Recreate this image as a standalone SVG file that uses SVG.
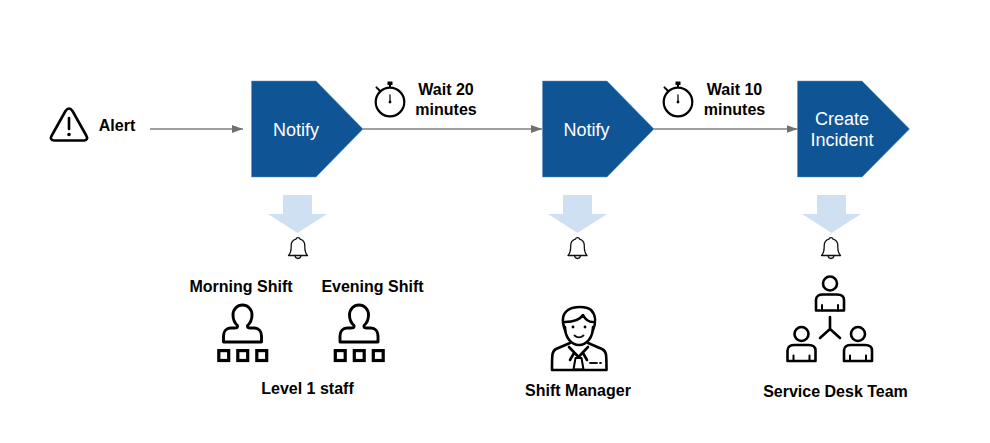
<svg xmlns="http://www.w3.org/2000/svg" width="990" height="443" viewBox="0 0 990 443">
  <style>
    .step { fill: #0f5596; stroke: #5c8fc0; stroke-width: 0.5; }
    .step-text { font: 18px "Liberation Sans", Arial, sans-serif; fill: #fff; text-anchor: middle; }
    .label { font: bold 16px "Liberation Sans", Arial, sans-serif; fill: #000; text-anchor: middle; }
    .down { fill: #cfe0f2; }
    .flow { stroke: #808080; stroke-width: 1.5; fill: none; marker-end: url(#head); }
    .ico { fill: none; stroke: #000; stroke-width: 2.6; stroke-linejoin: round; stroke-linecap: round; }
    .thin { fill: none; stroke: #111; stroke-width: 1.3; stroke-linejoin: round; stroke-linecap: round; }
  </style>
  <defs>
    <marker id="head" markerUnits="userSpaceOnUse" markerWidth="11" markerHeight="10" refX="11" refY="4" orient="auto">
      <path d="M0 0L11 4L0 8Z" fill="#707070"/>
    </marker>
    <path id="drop" class="down" d="M15 0H44V19H59L29.500 38L0 19H15Z"/>
    <g id="bell">
      <path class="thin" d="M-9.500 17.500C-6.500 14.500 -6.800 11 -6.800 7.500C-6.800 3.500 -4 1.800 -2 1.200C-1.800 -0.800 1.800 -0.800 2 1.200C4 1.800 6.800 3.500 6.800 7.500C6.800 11 6.500 14.500 9.500 17.500Z"/>
      <path class="thin" d="M-3 17.500C-2.500 21.500 2.500 21.500 3 17.500"/>
    </g>
    <g id="watch">
      <circle class="ico" style="stroke-width:2.200" cx="0" cy="0" r="14.300"/>
      <path d="M-2.500 -20.500H2.500V-17H1V-14.500H-1V-17H-2.500Z" fill="#000"/>
      <path class="ico" style="stroke-width:2" d="M-13.500 -14.600L-10.200 -11.200"/>
      <path class="thin" d="M0 -7V0"/>
      <circle cx="0" cy="0" r="1.400" fill="#000"/>
    </g>
    <g id="member">
      <circle class="ico" cx="0" cy="-11.500" r="7"/>
      <path class="ico" d="M-14 15.500V5C-14 1 -11 -0.500 -7 -0.500H7C11 -0.500 14 1 14 5V15.500Z"/>
      <path class="ico" style="stroke-width:2" d="M-8 10V15.500M8 10V15.500"/>
    </g>
    <g id="staff">
      <path class="ico" style="stroke-width:2.900" d="M-5 -4.500C-9 -8 -9.500 -12 -9.500 -15C-9.500 -21 -5 -25 0 -25C5 -25 9.500 -21 9.500 -15C9.500 -12 9 -8 5 -4.500V-3.500C5 -2.500 6 -2 8 -2H12C16 -2 19 1 19 6V12H-19V6C-19 1 -16 -2 -12 -2H-8C-6 -2 -5 -2.500 -5 -3.500Z"/>
      <g fill="#fff" stroke="#000" stroke-width="3.200">
        <rect x="-23.700" y="20.600" width="9.900" height="9.900"/>
        <rect x="-4.700" y="20.600" width="9.900" height="9.900"/>
        <rect x="14.300" y="20.600" width="9.900" height="9.900"/>
      </g>
    </g>
  </defs>

  <g id="connectors">
    <path class="flow" d="M150 129H243"/>
    <path class="flow" d="M363 129H542"/>
    <path class="flow" d="M654 129H797.500"/>
  </g>

  <g id="alert">
    <path class="ico" stroke-width="2.800" d="M69 108.500C67.500 108.500 66.500 109.500 65.500 111L51.500 136C50 138.500 51.500 140.500 54 140.500H84C86.500 140.500 88 138.500 86.500 136L72.500 111C71.500 109.500 70.500 108.500 69 108.500Z"/>
    <path class="ico" d="M69 118V129"/>
    <circle cx="69" cy="134.500" r="1.800" fill="#000"/>
    <text class="label" x="117" y="131">Alert</text>
  </g>

  <g id="notify-level1">
    <path class="step" d="M251.500 81H316L363 129L316 177H251.500Z"/>
    <text class="step-text" x="296" y="136">Notify</text>
    <use href="#drop" x="268" y="195"/>
    <use href="#bell" x="298" y="238"/>
  </g>
  <g id="wait-20">
    <use href="#watch" x="390" y="102"/>
    <text class="label" x="446" y="95">Wait 20</text>
    <text class="label" x="446" y="115">minutes</text>
  </g>
  <g id="morning-shift">
    <text class="label" x="241" y="292">Morning Shift</text>
    <use href="#staff" x="242.500" y="330"/>
  </g>
  <g id="evening-shift">
    <text class="label" x="372.500" y="292">Evening Shift</text>
    <use href="#staff" x="359" y="330"/>
  </g>
  <g id="level1-caption">
    <text class="label" x="307.500" y="394">Level 1 staff</text>
  </g>

  <g id="notify-manager">
    <path class="step" d="M542.500 81H607L654 129L607 177H542.500Z"/>
    <text class="step-text" x="586.500" y="136">Notify</text>
    <use href="#drop" x="548" y="195"/>
    <use href="#bell" x="577.500" y="238"/>
  </g>
  <g id="wait-10">
    <use href="#watch" x="678" y="102"/>
    <text class="label" x="734.500" y="95">Wait 10</text>
    <text class="label" x="734.500" y="115">minutes</text>
  </g>
  <g id="shift-manager">
    <g class="ico">
      <path d="M565 330C562 322 562 314 568 310C574 306 586 306 591 310C596 315 596 323 593 330"/>
      <path d="M565 322C572 322 579 321 583 315C585 319 589 322 593 322"/>
      <path d="M565 327C565 337 571 345 579 345C587 345 593 337 593 327"/>
      <path d="M570 343L556 349C552 351 552 354 552 370H606.500C606.500 354 606.500 351 602 349L588 343"/>
      <path d="M569 347L578.500 357L588 347M574 353L570 360M583 353L587 360"/>
      <path style="stroke-width:2" d="M575.500 358H581.500L583.500 369.500H573.500Z"/>
    </g>
    <circle cx="573" cy="327" r="1.400" fill="#000"/>
    <circle cx="585" cy="327" r="1.400" fill="#000"/>
    <path class="thin" style="stroke-width:1.800" d="M574.500 335.500C577 338 581 338 583.500 335.500"/>
    <path class="thin" style="stroke-width:1.800" d="M590 363H597M600 363H601"/>
    <text class="label" x="578" y="396">Shift Manager</text>
  </g>

  <g id="create-incident">
    <path class="step" d="M797.500 81H862L909.500 129L862 177H797.500Z"/>
    <text class="step-text" x="842" y="124.500">Create</text>
    <text class="step-text" x="842" y="146">Incident</text>
    <use href="#drop" x="802" y="195"/>
    <use href="#bell" x="831" y="238"/>
  </g>
  <g id="service-desk-team">
    <use href="#member" x="830" y="295"/>
    <use href="#member" x="801.500" y="345.500"/>
    <use href="#member" x="858" y="345.500"/>
    <path class="ico" d="M830 317V329M830 329L820 338M830 329L840 338"/>
    <text class="label" x="835.500" y="397">Service Desk Team</text>
  </g>
</svg>
